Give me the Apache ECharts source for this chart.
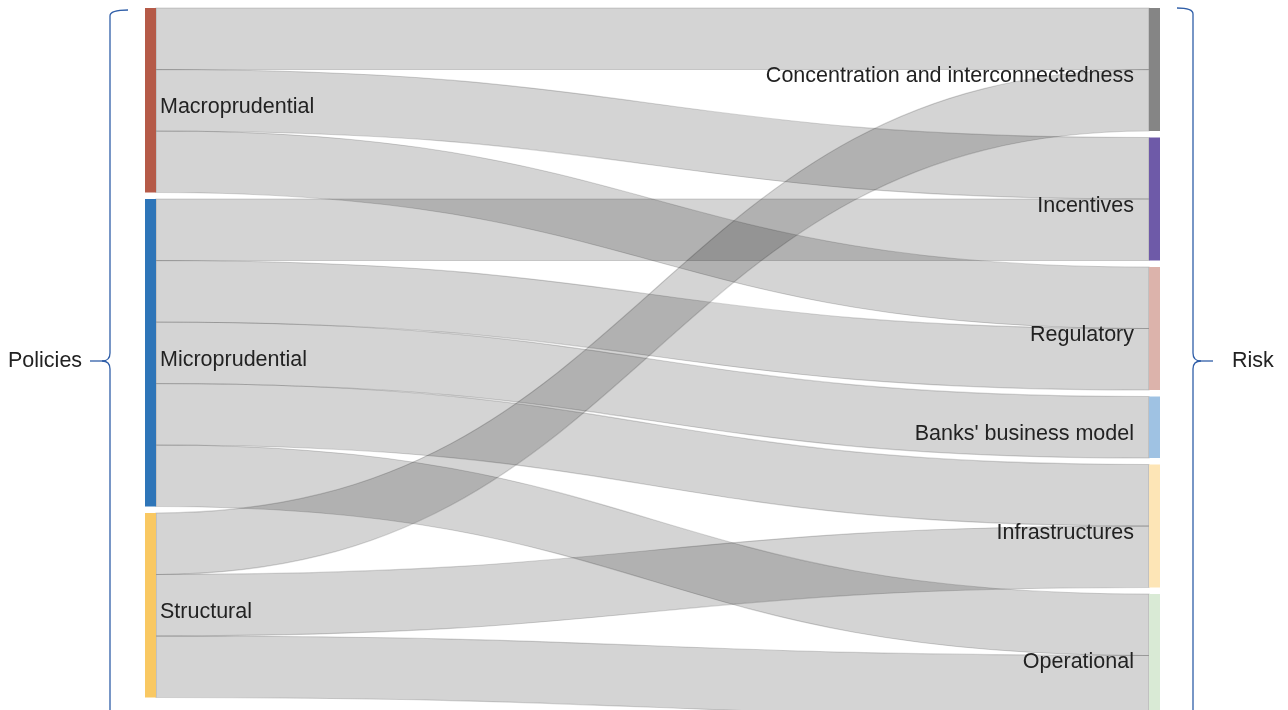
<!DOCTYPE html>
<html>
<head>
<meta charset="utf-8">
<title>Policies - Risk</title>
<script src="https://cdn.jsdelivr.net/npm/echarts@6/dist/echarts.min.js"></script>
<style>
  html, body { margin: 0; padding: 0; background: #fff; }
  #main { width: 1288px; height: 710px; }
</style>
</head>
<body>
<div id="main"></div>
<script>
// data
var policies = ["Macroprudential", "Microprudential", "Structural"];
var risks = [
  "Concentration and interconnectedness",
  "Incentives",
  "Regulatory",
  "Banks' business model",
  "Infrastructures",
  "Operational"
];
var linkSources = [
  "Macroprudential", "Macroprudential", "Macroprudential",
  "Microprudential", "Microprudential", "Microprudential", "Microprudential", "Microprudential",
  "Structural", "Structural", "Structural"
];
var linkTargets = [
  "Concentration and interconnectedness", "Incentives", "Regulatory",
  "Incentives", "Regulatory", "Banks' business model", "Infrastructures", "Operational",
  "Concentration and interconnectedness", "Infrastructures", "Operational"
];
var linkValues = [1, 1, 1, 1, 1, 1, 1, 1, 1, 1, 1];

// colours
var policyColors = ["#b55a48", "#2e75b8", "#f9c862"];
var riskColors = ["#858585", "#6e5aa8", "#dcb3ab", "#9fc2e3", "#fde5b6", "#d9ead5"];
var fontFamily = "'Liberation Sans', Arial, sans-serif";

var myChart = echarts.init(document.getElementById("main"));

var nodes = [];
policies.forEach(function (name, i) {
  nodes.push({
    name: name,
    itemStyle: { color: policyColors[i], borderWidth: 0 },
    label: { position: "right", distance: 4 }
  });
});
risks.forEach(function (name, i) {
  nodes.push({
    name: name,
    itemStyle: { color: riskColors[i], borderWidth: 0 },
    label: { position: "left", distance: 15 }
  });
});

var links = linkSources.map(function (s, i) {
  return { source: s, target: linkTargets[i], value: linkValues[i] };
});

// brace: vertical line, small hook on top, pointed notch in the middle
var braceColor = "#2f5ea8";
function brace(xLine, xHook, yTop, yMid, xTip, yBottom) {
  var st = { stroke: braceColor, lineWidth: 1.3, fill: "none" };
  var dir = xTip < xLine ? -1 : 1;
  var xKnee = xLine + dir * 8;
  return [
    { type: "bezierCurve", shape: { x1: xHook, y1: yTop, cpx1: xLine, cpy1: yTop, x2: xLine, y2: yTop + 6 }, style: st },
    { type: "line", shape: { x1: xLine, y1: yTop + 6, x2: xLine, y2: yMid - 8 }, style: st },
    { type: "bezierCurve", shape: { x1: xLine, y1: yMid - 8, cpx1: xLine, cpy1: yMid, x2: xKnee, y2: yMid }, style: st },
    { type: "bezierCurve", shape: { x1: xKnee, y1: yMid, cpx1: xLine, cpy1: yMid, x2: xLine, y2: yMid + 8 }, style: st },
    { type: "line", shape: { x1: xKnee, y1: yMid, x2: xTip, y2: yMid }, style: st },
    { type: "line", shape: { x1: xLine, y1: yMid + 8, x2: xLine, y2: yBottom }, style: st }
  ];
}

var graphics = []
  .concat(brace(110, 128, 10, 361, 90, 712))
  .concat(brace(1193, 1177, 8, 361, 1213, 712))
  .concat([
    { type: "text", left: 8, top: 350, style: { text: "Policies", fill: "#222", font: "21.5px " + fontFamily } },
    { type: "text", left: 1232, top: 350, style: { text: "Risk", fill: "#222", font: "21.5px " + fontFamily } }
  ]);

myChart.setOption({
  animation: false,
  series: [
    {
      type: "sankey",
      left: 145,
      top: 8,
      width: 1015,
      height: 709,
      nodeWidth: 11,
      nodeGap: 6.5,
      layoutIterations: 0,
      draggable: false,
      silent: true,
      emphasis: { disabled: true },
      label: { color: "#222", fontSize: 21.5, fontFamily: fontFamily, offset: [0, 7] },
      data: nodes,
      links: links,
      lineStyle: {
        color: "rgba(0,0,0,0.17)",
        borderColor: "rgba(0,0,0,0.16)",
        borderWidth: 1.2,
        opacity: 1,
        curveness: 0.5
      }
    }
  ],
  graphic: graphics
});
</script>
</body>
</html>
